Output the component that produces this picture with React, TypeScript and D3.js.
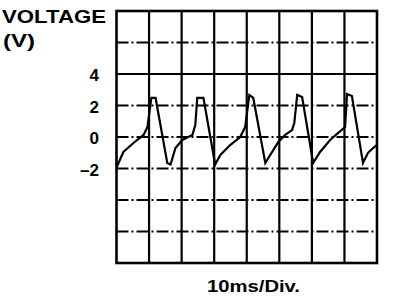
import React from "react";
import * as d3 from "d3";

// waveform samples: time (ms) and voltage (V)
const timeMs = [0, 0.3, 2.1, 5.2, 8.3, 9.5, 10.7, 12.0, 15.6, 16.6, 18.1, 20.2, 23.3, 24.2, 24.8, 26.7, 30.3, 31.9, 34.9, 38.0, 39.5, 40.8, 42.0, 45.7, 47.2, 49.7, 51.8, 53.9, 54.6, 55.5, 57.0, 60.4, 62.5, 65.6, 68.0, 70.2, 70.8, 72.3, 75.7, 77.2, 78.8, 80];
const voltage = [-1.6, -1.8, -0.95, -0.38, 0.13, 0.63, 2.48, 2.48, -1.65, -1.75, -0.7, -0.19, 0.13, 0.76, 2.48, 2.48, -1.75, -1.14, -0.51, 0.0, 0.63, 2.67, 2.48, -1.65, -1.14, -0.32, 0.13, 0.44, 0.89, 2.67, 2.54, -1.65, -0.95, -0.19, 0.25, 0.63, 2.73, 2.6, -1.65, -1.02, -0.7, -0.5];

const timeGrid = [0, 10, 20, 30, 40, 50, 60, 70, 80];
const voltGrid = [-8, -6, -4, -2, 0, 2, 4, 6, 8];
const dashedVolts = [6, 2, 0, -2, -4, -6];
const tickLabels = [4, 2, 0, -2];

const yTitle = ["VOLTAGE", "(V)"];
const xTitle = "10ms/Div.";

export default function App() {
  const x = d3.scaleLinear().domain([0, 80]).range([116.5, 377]);
  const y = d3.scaleLinear().domain([-8, 8]).range([263, 11]);
  const line = d3
    .line<number>()
    .x((_, i) => x(timeMs[i]))
    .y((d) => y(d))
    .curve(d3.curveLinear);

  const font = "'Liberation Sans', Arial, sans-serif";

  return (
    <svg
      width={400}
      height={300}
      style={{ position: "absolute", left: 0, top: 0, background: "#fff" }}
    >
      <rect x={0} y={0} width={400} height={300} fill="#fff" />
      {/* horizontal grid */}
      {voltGrid.slice(1, -1).map((v) => (
        <line
          key={"h" + v}
          x1={x(0)}
          x2={x(80)}
          y1={y(v)}
          y2={y(v)}
          stroke="#000"
          strokeWidth={2}
          strokeDasharray={dashedVolts.includes(v) ? "12,3,2,3" : undefined}
        />
      ))}
      {/* vertical grid */}
      {timeGrid.slice(1, -1).map((t) => (
        <line
          key={"v" + t}
          x1={x(t)}
          x2={x(t)}
          y1={y(8)}
          y2={y(-8)}
          stroke="#000"
          strokeWidth={2.2}
        />
      ))}
      {/* border */}
      <rect
        x={x(0)}
        y={y(8)}
        width={x(80) - x(0)}
        height={y(-8) - y(8)}
        fill="none"
        stroke="#000"
        strokeWidth={2.6}
      />
      {/* waveform */}
      <path
        d={line(voltage) || ""}
        fill="none"
        stroke="#000"
        strokeWidth={2.2}
        strokeLinejoin="miter"
      />
      {/* tick labels */}
      {tickLabels.map((v) => (
        <text
          key={"t" + v}
          x={99}
          y={y(v) + 7}
          textAnchor="end"
          fontFamily={font}
          fontWeight="bold"
          fontSize={17}
        >
          {v < 0 ? "–" + Math.abs(v) : String(v)}
        </text>
      ))}
      {/* titles */}
      <text
        x={2}
        y={22.5}
        fontFamily={font}
        fontWeight="bold"
        fontSize={19}
        textLength={104}
        lengthAdjust="spacingAndGlyphs"
      >
        {yTitle[0]}
      </text>
      <text
        x={3}
        y={47}
        fontFamily={font}
        fontWeight="bold"
        fontSize={19}
        textLength={32}
        lengthAdjust="spacingAndGlyphs"
      >
        {yTitle[1]}
      </text>
      <text
        x={207}
        y={292}
        fontFamily={font}
        fontWeight="bold"
        fontSize={17}
        textLength={93}
        lengthAdjust="spacingAndGlyphs"
      >
        {xTitle}
      </text>
    </svg>
  );
}
